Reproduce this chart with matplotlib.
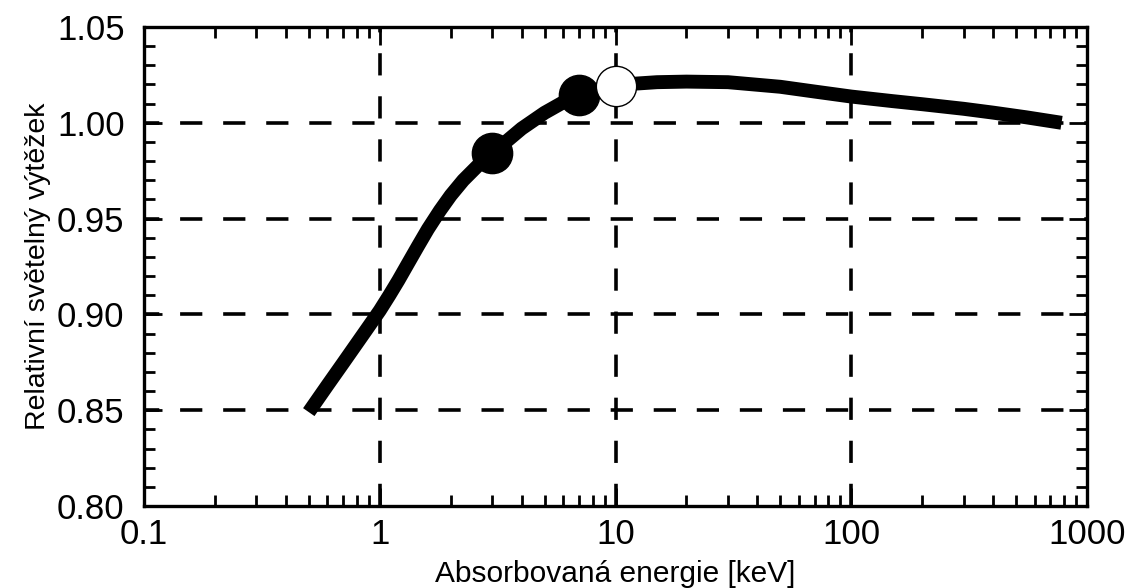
import matplotlib
matplotlib.use("Agg")
import matplotlib.pyplot as plt
from matplotlib.ticker import FixedLocator, MultipleLocator, LogLocator, NullFormatter

plt.rcParams['font.family'] = ['Liberation Sans', 'DejaVu Sans']
plt.rcParams['lines.scale_dashes'] = False

# Curve data
energy = [0.5, 0.6, 0.7, 0.8, 0.9, 1.0, 1.1, 1.2, 1.3, 1.45, 1.6, 1.8, 2.0, 2.26,
          2.6, 3.0, 3.5, 4.0, 5.0, 6.0, 7.0, 8.5, 10, 12, 15, 20, 30, 50, 70, 100,
          150, 200, 300, 400, 550, 780]
yield_rel = [0.849, 0.863, 0.8747, 0.8849, 0.8939, 0.902, 0.9101, 0.9178, 0.9253,
             0.9355, 0.9445, 0.9542, 0.9621, 0.970, 0.9775, 0.984, 0.991, 0.997,
             1.0052, 1.0107, 1.0145, 1.0175, 1.019, 1.0204, 1.0212, 1.0215, 1.0212,
             1.0188, 1.0163, 1.0137, 1.0113, 1.0097, 1.0073, 1.0053, 1.0029, 1.000]

# Markers
filled_x = [3.0, 7.0]
filled_y = [0.984, 1.0145]
open_x = [10.0]
open_y = [1.019]

x_ticks = [0.1, 1, 10, 100, 1000]
x_labels = ['0.1', '1', '10', '100', '1000']
y_ticks = [0.80, 0.85, 0.90, 0.95, 1.00, 1.05]
y_labels = ['0.80', '0.85', '0.90', '0.95', '1.00', '1.05']

fig = plt.figure(figsize=(11.29, 5.88), dpi=100)
ax = fig.add_axes([144/1129, 1-506/588, (1087-144)/1129, (506-27)/588])

ax.set_xscale('log')
ax.set_xlim(0.1, 1000)
ax.set_ylim(0.80, 1.05)

# grid
for xv in [1, 10, 100]:
    ax.axvline(xv, color='black', lw=2.6, linestyle=(0, (16, 15)), zorder=1)
for yv in [0.85, 0.90, 0.95, 1.00]:
    ax.axhline(yv, color='black', lw=2.6, linestyle=(5, (16, 15)), zorder=1)

ax.plot(energy, yield_rel, color='black', lw=10, solid_capstyle='butt',
        solid_joinstyle='round', zorder=3)
ax.plot(filled_x, filled_y, 'o', color='black', ms=29, zorder=4)
ax.plot(open_x, open_y, 'o', mfc='white', mec='black', mew=1.0, ms=29, zorder=5)

ax.xaxis.set_major_locator(FixedLocator(x_ticks))
ax.set_xticklabels(x_labels)
ax.xaxis.set_minor_locator(LogLocator(base=10, subs=[2, 3, 4, 5, 6, 7, 8, 9]))
ax.xaxis.set_minor_formatter(NullFormatter())
ax.yaxis.set_major_locator(FixedLocator(y_ticks))
ax.set_yticklabels(y_labels)
ax.yaxis.set_minor_locator(MultipleLocator(0.01))

ax.tick_params(which='both', direction='in', top=True, right=True, width=2.0, color='black')
ax.tick_params(which='major', length=13, labelsize=25, pad=9)
ax.tick_params(axis='y', which='major', pad=14)
ax.tick_params(which='minor', length=8)
for s in ax.spines.values():
    s.set_linewidth(2.4)

ax.set_xlabel('Absorbovaná energie [keV]', fontsize=21.5, labelpad=6)
ax.set_ylabel('Relativní světelný výtěžek', fontsize=20.5, labelpad=4)

fig.savefig('out.png', dpi=100)
